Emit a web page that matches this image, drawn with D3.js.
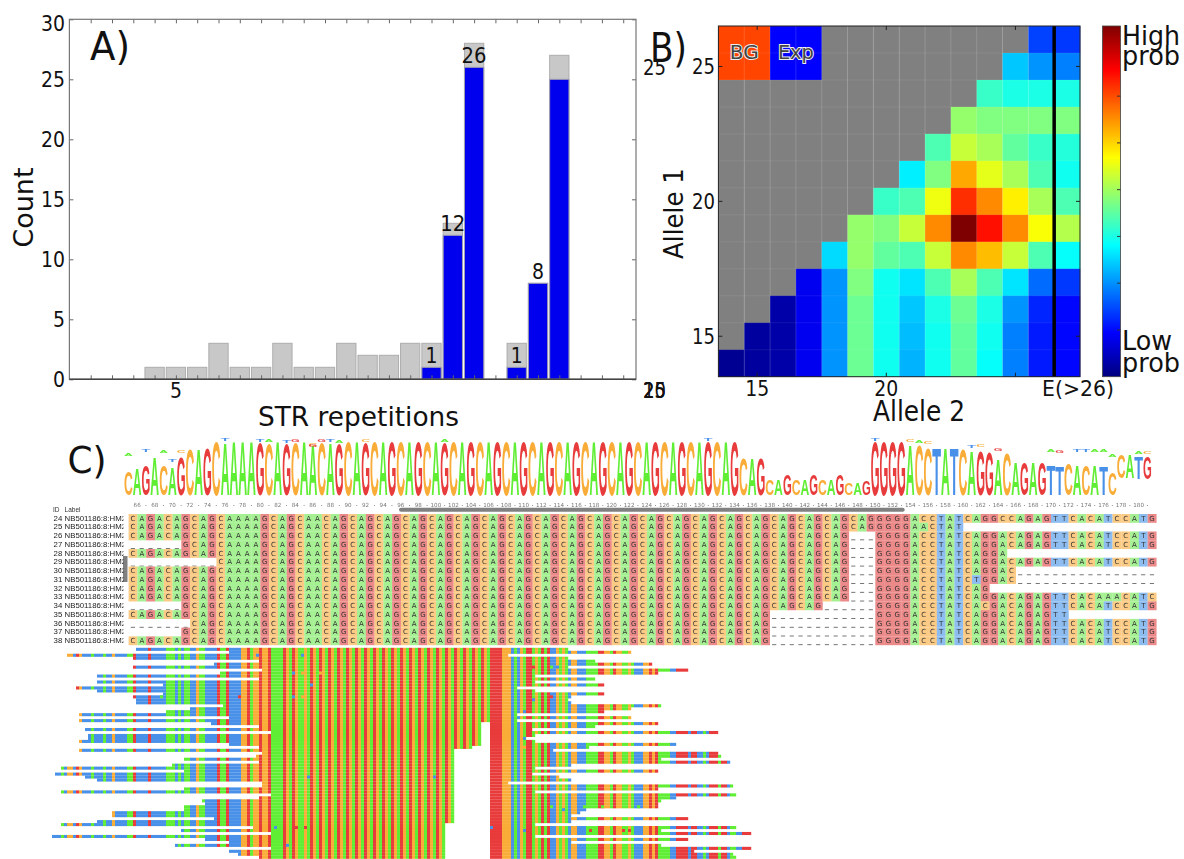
<!DOCTYPE html>
<html><head><meta charset="utf-8">
<script src="https://cdn.jsdelivr.net/npm/d3@7/dist/d3.min.js"></script>
<style>html,body{margin:0;padding:0;background:#fff}svg{display:block}text{font-family:"DejaVu Sans";fill:#111}</style>
</head><body><svg id="c" width="1184" height="859"></svg>
<script>
// ---------- Panel A data
const repeatValues=[4,5,6,7,8,9,10,11,12,13,14,15,16,17,18,19,21,22,23];
const backgroundCounts=[1,1,1,3,1,1,3,1,1,3,2,2,3,3,13,28,3,8,27];
const expandedCounts=[0,0,0,0,0,0,0,0,0,0,0,0,0,1,12,26,1,8,25];
const annotatedRepeats=[17,18,19,21,22];
const annotatedValues=[1,12,26,1,8];
const countTicks=[0,5,10,15,20,25,30];
const repeatMinorTicks=[1,2,3,4,5,6,7,8,9,10,11,12,13,14,15,16,17,18,19,20,21,22,23,24,25,26];
const repeatTickLabels=[5];
// ---------- Panel B data
const allele2Cols=["14","15","16","17","18","19","20","21","22","23","24","25","26","E"];
const allele1Rows=[26,25,24,23,22,21,20,19,18,17,16,15,14];
const n=null;
const probGrid=[
[n,n,n,n,n,n,n,n,n,n,n,n,.19,.18],
[n,n,n,n,n,n,n,n,n,n,n,.32,.27,.25],
[n,n,n,n,n,n,n,n,n,n,.43,.40,.40,.40],
[n,n,n,n,n,n,n,n,n,.52,.50,.50,.50,.50],
[n,n,n,n,n,n,n,n,.45,.57,.54,.47,.43,.41],
[n,n,n,n,n,n,n,.36,.50,.71,.60,.54,.45,.39],
[n,n,n,n,n,n,.43,.45,.61,.83,.74,.64,.54,.45],
[n,n,n,n,n,.52,.50,.57,.74,1,.86,.74,.62,.55],
[n,n,n,n,.34,.52,.47,.45,.57,.74,.69,.57,.45,.38],
[n,n,n,.11,.27,.50,.39,.35,.45,.54,.45,.35,.23,.18],
[n,n,.04,.11,.27,.48,.39,.32,.40,.48,.40,.27,.16,.13],
[n,.03,.04,.11,.27,.48,.39,.31,.39,.47,.39,.25,.15,.13],
[.02,.03,.04,.11,.27,.48,.39,.30,.39,.47,.38,.25,.15,.13]];
const alleleTicks=[15,20,25];
const jetStops=[[0,"#00007f"],[.125,"#0000ff"],[.375,"#00ffff"],[.625,"#ffff00"],[.875,"#ff0000"],[1,"#7f0000"]];
const colorbarTicks=[.1333,.2667,.4,.5333,.6667,.8];
// ---------- Panel C data
const head="CAGACAGCAGCAAAAGCAGCAACAG";
const rep16="CAGCAGCAGCAGCAGCAGCAGCAGCAGCAGCAGCAGCAGCAGCAGCAG";
const rep18=rep16+"CAGCAG", rep19=rep18+"CAG", rep20=rep19+"CAG";
const tail="GGGGACCTATCAGGACAGAGTTCACATCCATG";
const alignRows=[
head+rep20+"GGGGACCTATCAGGCCAGAGTTCACATCCATG",
head+rep20+"GGGGAACTAT                      ",
head+rep19+"---"+tail,
"------GCAGCAAAAGCAGCAACAG"+rep19+"---"+tail,
head+rep19+"---"+"GGGGACCTATCAGGA                 ",
"----------CAAAAGCAGCAACAG"+rep19+"---"+tail,
head+rep19+"---"+"GGGGACCTATCAGGAC----------------",
head+rep19+"---"+"GGGGACCTATCTGGAC----------------",
head+rep19+"---"+"GGGGACCTATCAG                   ",
head+rep19+"---"+"GGGGACCTATCAGGACAGAGTTCACAAACATC",
"------GCAGCAAAAGCAGCAACAG"+rep18+"------"+"GGGGACCTATCACGACAGAGTTCACATCCATG",
head+rep16+"------------"+"GGGGACCTATCAGGACAGAGTT          ",
"-------CAGCAAAAGCAGCAACAG"+rep16+"------------"+tail,
"      GCAGCAAAAGCAGCAACAG"+rep16+"------------"+tail,
head+rep16+"------------"+tail];
const alignIds=[24,25,26,27,28,29,30,31,32,33,34,35,36,37,38];
const alignLabel="NB501186:8:HM2";
const logoBases=head+rep20+tail;
const logoHeights=[.44,.48,.55,.70,.55,.50,.72,.86,.86,.88,
1,.98,1,1,1,.97,.96,1,.96,.98,1,.93,.98,.98,.96,1,1,.98,1,1,
1,1,1,1,1,1,.98,1,1,1,1,1,1,1,1,1,1,1,1,1,
1,1,1,1,1,1,1,1,1,1,1,1,1,1,1,1,1,1,1,1,
.68,.68,.68,.30,.30,.38,.30,.30,.38,.30,.30,.38,.22,.22,.27,
1,1,1,1,.92,.92,.89,.89,.89,.89,.86,.83,.83,.80,.65,.77,.62,.62,.62,.62,
.56,.54,.59,.56,.56,.56,.54,.41,.45,.45,.42,.42];
const logoLiftCols=[113,114,115,116];
const logoLifts=[.32,.32,.29,.29];
const logoMinor=[[0,"A",.71],[2,"T",.78],[4,"A",.76],[5,"T",.60],[6,"C",.77],[11,"T",.98],[15,"T",.97],[16,"A",.96],[18,"T",.95],[19,"G",.97],[21,"C",.90],[21,"G",.88],[22,"G",.97],[23,"T",.97],[24,"A",.95],[27,"C",.97],[36,"A",.96],
[66,"T",.98],[85,"T",.98],[89,"C",.97],[90,"A",.95],[91,"C",.93],[96,"T",.85],[97,"C",.88],[99,"G",.80],[105,"A",.79],[106,"G",.76],[108,"T",.78],[109,"T",.78],[110,"A",.78],[111,"A",.78],[112,"A",.69],[115,"A",.74],[116,"C",.74]];
const rulerTicks=[66,68,70,72,74,76,78,80,82,84,86,88,90,92,94,96,98,100,102,104,106,108,110,112,114,116,118,120,122,124,126,128,130,132,134,136,138,140,142,144,146,148,150,152,154,156,158,160,162,164,166,168,170,172,174,176,178,180];
// pileup
const pileRef="TTTT"+"TTTATCCTGCTT"+"TATTTATTCTTTTAAGTTTTG"+"TTTTTAAATATAATTCAATTTTGAAGTTTTCCGACCGCCG"+"AAAAGCAGCAACAG"+
rep16+"CAGCAGCAG"+"CA"+"GGGGCCCTATCAGGACAGAGTTCACATCCTTTAAAAGGCCAGCCAACATTTCCGCGAAAATTGGGGTGGTTATGGGAGGTAATTGGGCAC";
const readStarts=[32,63,9,31,73,58,31,74,60,19,73,19,41,12,19,41,31,32,32,61,50,42,13,63,13,57,73,15,77,16,16,13,63,73,13,74,72,48,73,44,7,48,5,15,19,74,74,48,7,77,73,54,55,48,48,24,24,58,19,7,71,47,77,4,55,63,45,77,63,66,73];
const readEnds=[176,197,156,176,185,204,176,216,206,165,185,165,188,159,165,188,177,176,177,207,197,188,159,197,159,206,185,164,226,165,162,165,212,183,171,226,227,207,230,177,165,206,164,173,177,156,231,206,165,232,212,207,206,206,182,180,177,216,177,165,232,207,237,165,216,177,207,237,218,231,232];
const gapFromRow=[25,33,34,59];
const gapFromCol=[147,144,138,135];
const gapEndCol=150;
const mismatches=[[2,87,"T"],[2,72,"T"],[8,84,"T"],[8,87,"C"],[8,93,"C"],[12,90,"T"],[16,84,"T"],[16,87,"C"],[16,66,"G"],[16,40,"A"],[43,89,"T"],[60,78,"T"],[60,85,"G"],[60,88,"G"],[66,82,"T"],[6,164,"G"],[6,170,"A"],[6,172,"T"],[17,164,"T"],[16,170,"G"],[21,161,"T"],[30,161,"T"],[33,161,"C"],[43,131,"T"],[60,150,"T"],[61,161,"T"],[61,183,"G"],[61,194,"G"],[61,196,"G"],[53,170,"A"],[54,174,"T"],[53,181,"A"],[53,187,"A"],[53,199,"A"]];

const svg=d3.select("#c");
function txt(g,s,x,y,size,width,o={}){
  const t=g.append("text").text(s).attr("x",x).attr("y",y).attr("font-size",size)
    .attr("text-anchor",o.anchor||"middle");
  if(width){t.attr("textLength",width).attr("lengthAdjust","spacingAndGlyphs");}
  if(o.rotate)t.attr("transform",`rotate(-90,${x},${y})`);
  return t;
}
// ================= Panel A
const A=svg.append("g");
const xA=d3.scaleLinear().domain([0,26.6]).range([69.4,636]);
const yA=d3.scaleLinear().domain([0,30]).range([379.3,19.3]);
const barW=19.3;
A.selectAll("rect.bg").data(repeatValues).join("rect").attr("class","bg")
 .attr("x",d=>xA(d)-barW/2).attr("width",barW)
 .attr("y",(d,i)=>yA(backgroundCounts[i])).attr("height",(d,i)=>yA(0)-yA(backgroundCounts[i]))
 .attr("fill","#c8c8c8").attr("stroke","#adadad").attr("stroke-width",1);
A.selectAll("rect.ex").data(repeatValues.filter((d,i)=>expandedCounts[i]>0)).join("rect").attr("class","ex")
 .attr("x",d=>xA(d)-barW/2).attr("width",barW)
 .attr("y",d=>yA(expandedCounts[repeatValues.indexOf(d)])).attr("height",d=>yA(0)-yA(expandedCounts[repeatValues.indexOf(d)]))
 .attr("fill","#0000ee").attr("stroke","#a0a0b0").attr("stroke-width",1);
function styleAxis(g,col){g.selectAll(".domain").remove();g.selectAll("line").attr("stroke",col).attr("stroke-width",1);g.selectAll("text").remove();}
A.append("g").attr("transform",`translate(0,${yA(0)})`).call(d3.axisBottom(xA).tickValues(repeatMinorTicks).tickSize(-4)).call(g=>styleAxis(g,"#666"));
A.append("g").attr("transform",`translate(0,${yA(30)})`).call(d3.axisTop(xA).tickValues(repeatMinorTicks).tickSize(-4)).call(g=>styleAxis(g,"#666"));
A.append("g").attr("transform",`translate(${xA(0)},0)`).call(d3.axisLeft(yA).tickValues(countTicks).tickSize(-4)).call(g=>styleAxis(g,"#666"));
A.append("g").attr("transform",`translate(${xA.range()[1]},0)`).call(d3.axisRight(yA).tickValues(countTicks).tickSize(-4)).call(g=>styleAxis(g,"#666"));
A.append("rect").attr("x",xA(0)).attr("y",yA(30)).attr("width",xA.range()[1]-xA(0)).attr("height",yA(0)-yA(30)).attr("fill","none").attr("stroke","#777").attr("stroke-width",1.2);
A.append("line").attr("x1",xA(0)).attr("x2",xA.range()[1]).attr("y1",yA(0)).attr("y2",yA(0)).attr("stroke","#444").attr("stroke-width",1.4);
countTicks.forEach(v=>{const yy=yA(v)+8+(v===30?4:0);txt(A,String(v),65,yy,22,v<10?12:24,{anchor:"end"});});
repeatTickLabels.forEach(v=>txt(A,String(v),xA(v),398,22,12));
annotatedRepeats.forEach((d,i)=>{const v=annotatedValues[i];txt(A,String(v),xA(d),yA(v)-4,22,v<10?12:25);});
txt(A,"Count",33,207.5,27,80,{rotate:true});
txt(A,"STR repetitions",358.5,426,27,201);
txt(A,"A)",110,60,39,40);
// ================= Panel B
const B=svg.append("g");
const xB=d3.scaleBand().domain(allele2Cols).range([718.4,1080]);
const yB=d3.scaleBand().domain(allele1Rows).range([26,376.7]);
const jet=d3.scaleLinear().domain(jetStops.map(d=>d[0])).range(jetStops.map(d=>d[1]));
probGrid.forEach((row,r)=>row.forEach((v,c)=>{
  B.append("rect").attr("x",xB(allele2Cols[c])).attr("y",yB(allele1Rows[r])).attr("width",xB.bandwidth()+.3).attr("height",yB.bandwidth()+.3)
   .attr("fill",v===null?"#808080":jet(v));
}));
B.append("rect").attr("x",xB("14")).attr("y",yB(26)).attr("width",xB.bandwidth()*2).attr("height",yB.bandwidth()*2).attr("fill","#ff4500");
B.append("rect").attr("x",xB("16")).attr("y",yB(26)).attr("width",xB.bandwidth()*2).attr("height",yB.bandwidth()*2).attr("fill","#0000ff");
allele2Cols.slice(1).forEach(c=>B.append("line").attr("x1",xB(c)).attr("x2",xB(c)).attr("y1",26).attr("y2",376.7).attr("stroke","rgba(255,255,255,.15)"));
allele1Rows.slice(1).forEach(c=>B.append("line").attr("y1",yB(c)).attr("y2",yB(c)).attr("x1",718.4).attr("x2",1080).attr("stroke","rgba(255,255,255,.08)"));
const cx=d=>xB(String(d))+xB.bandwidth()/2, cy=d=>yB(d)+yB.bandwidth()/2;
alleleTicks.forEach(d=>{
  B.append("line").attr("x1",cx(d)).attr("x2",cx(d)).attr("y1",376.7).attr("y2",372.7).attr("stroke","#222");
  B.append("line").attr("x1",cx(d)).attr("x2",cx(d)).attr("y1",26).attr("y2",30).attr("stroke","#222");
  B.append("line").attr("y1",cy(d)).attr("y2",cy(d)).attr("x1",718.4).attr("x2",722.4).attr("stroke","#222");
  B.append("line").attr("y1",cy(d)).attr("y2",cy(d)).attr("x1",1080).attr("x2",1076).attr("stroke","#222");
  txt(B,String(d),715,cy(d)+8,22,23,{anchor:"end"});
  if(d<25)txt(B,String(d),cx(d),396,22,24);
});
txt(B,"E(>26)",1078,396,22,72);
B.append("line").attr("x1",xB("E")).attr("x2",xB("E")).attr("y1",26).attr("y2",376.7).attr("stroke","#000").attr("stroke-width",3.5);
B.append("rect").attr("x",718.4).attr("y",26).attr("width",361.6).attr("height",350.7).attr("fill","none").attr("stroke","#222").attr("stroke-width",1);
[["BG",xB("15"),29],["Exp",xB("17"),36]].forEach(([s,x,w])=>{
  txt(B,s,x,59,20,w).style("fill","#444").attr("stroke","#eee").attr("stroke-width",2).attr("paint-order","stroke");
});
txt(B,"Allele 1",683,213.5,26,91,{rotate:true});
txt(B,"Allele 2",919,421,28,92);
txt(B,"B)",668.5,62,40,37);
txt(B,"25",654.5,75,22,23);
alleleTicks.forEach(d=>txt(B,String(d),654.5,398,22,23));
const grad=svg.append("defs").append("linearGradient").attr("id","jet").attr("x1",0).attr("x2",0).attr("y1",1).attr("y2",0);
jetStops.forEach(s=>grad.append("stop").attr("offset",s[0]).attr("stop-color",s[1]));
const yC=d3.scaleLinear().domain([0,1]).range([376.7,26]);
B.append("rect").attr("x",1102.5).attr("y",26).attr("width",18).attr("height",350.7).attr("fill","url(#jet)").attr("stroke","#444").attr("stroke-width",.8);
colorbarTicks.forEach(t=>B.append("line").attr("x1",1120.5).attr("x2",1117).attr("y1",yC(t)).attr("y2",yC(t)).attr("stroke","#333"));
txt(B,"High",1122,44.5,26,58,{anchor:"start"});
txt(B,"prob",1122,65,26,58,{anchor:"start"});
txt(B,"Low",1122,350,26,50,{anchor:"start"});
txt(B,"prob",1122,372,26,58,{anchor:"start"});
// ================= Panel C
const defs=svg.select("defs");
defs.append("filter").attr("id","soft").attr("x","-2%").attr("y","-2%").attr("width","104%").attr("height","104%").append("feGaussianBlur").attr("stdDeviation",.45);
defs.append("clipPath").attr("id","lab").append("rect").attr("x",50).attr("y",505).attr("width",73.5).attr("height",145);
txt(svg,"C)",87,473,38,39);
const C=svg.append("g").attr("filter","url(#soft)");
const logoCol={C:"#f9ac37",A:"#61ee35",G:"#e83a3a",T:"#4a90e8"};
const cellCol={C:"#fbcb85",A:"#a5f092",G:"#ec8a8a",T:"#8dbcf0"};
const adv={C:72.2,A:72.2,G:77.8,T:61.1};
const xLogo=d3.scaleLinear().domain([0,117]).range([124,124+117*8.785]);
const yLogo=d3.scaleLinear().domain([0,1]).range([495.3,440]);
function glyph(ch,i,y0,h){
  const w=xLogo(1)-xLogo(0);
  C.append("text").text(ch).attr("font-size",100).style("font-family","Liberation Sans").style("font-weight","bold").style("fill",logoCol[ch])
   .attr("transform",`translate(${xLogo(i)},${y0}) scale(${w*1.0/adv[ch]},${h/73})`);
}
logoHeights.forEach((f,i)=>{
  const k=logoLiftCols.indexOf(i), lift=k<0?0:logoLifts[k];
  glyph(logoBases[i],i,yLogo(lift),yLogo(0)-yLogo(f));
});
logoMinor.forEach(m=>glyph(m[1],m[0],yLogo(m[2]),2.2));
rulerTicks.forEach(v=>{
  C.append("text").text(v).attr("x",xLogo(v-65+.5)).attr("y",507).attr("font-size",5.6).attr("text-anchor","middle").style("fill","#777");
  C.append("circle").attr("cx",xLogo(v-64+.5)).attr("cy",505.5).attr("r",.5).attr("fill","#777");
});
C.append("rect").attr("x",399).attr("y",507.7).attr("width",505.7).attr("height",4).attr("rx",2).attr("fill","#808080");
C.append("rect").attr("x",123).attr("y",556).attr("width",4.5).attr("height",26).attr("fill","#808080");
const xAl=d3.scaleLinear().domain([0,117]).range([128.6,128.6+117*8.785]);
const yAl=d3.scaleBand().domain(alignIds).range([514,645.1]);
C.append("text").text("ID").attr("x",53).attr("y",511.5).attr("font-size",6.5).style("font-family","Liberation Sans").style("fill","#333");
C.append("text").text("Label").attr("x",64.6).attr("y",511.5).attr("font-size",6.5).style("font-family","Liberation Sans").style("fill","#333");
alignRows.forEach((seq,r)=>{
  const id=alignIds[r], y=yAl(id), h=yAl.bandwidth();
  C.append("text").text(id).attr("x",53.6).attr("y",y+h-2).attr("font-size",7.8).style("font-family","Liberation Sans").style("fill","#222");
  C.append("text").text(alignLabel).attr("x",64.6).attr("y",y+h-2).attr("font-size",7.8).attr("clip-path","url(#lab)").style("font-family","Liberation Sans").style("fill","#222");
  seq.split("").forEach((ch,i)=>{
    if(ch===" ")return;
    if(ch==="-"){C.append("rect").attr("x",xAl(i)+2.2).attr("y",y+h/2+3.6).attr("width",4.2).attr("height",.8).attr("fill","#555");return;}
    C.append("rect").attr("x",xAl(i)).attr("y",y).attr("width",8.9).attr("height",h+.1).attr("fill",cellCol[ch]);
    C.append("text").text(ch).attr("x",xAl(i)+4.4).attr("y",y+h-2).attr("font-size",7).attr("text-anchor","middle").style("font-family","DejaVu Sans").style("fill","#333");
  });
});
const xP=d3.scaleLinear().domain([0,240]).range([40,760]);
const yP=d3.scaleLinear().domain([0,71]).range([647.8,858.7]);
readStarts.forEach((s,r)=>{
  let gs=null; gapFromRow.forEach((fr,k)=>{if(r>=fr)gs=gapFromCol[k];});
  let runStart=s;
  for(let c=s+1;c<=readEnds[r];c++){
    const inGap=gs!==null&&c>=gs&&c<gapEndCol, prevGap=gs!==null&&c-1>=gs&&c-1<gapEndCol;
    if(c===readEnds[r]||pileRef[c]!==pileRef[runStart]||inGap!==prevGap){
      if(!prevGap)C.append("rect").attr("x",xP(runStart)).attr("y",yP(r)).attr("width",xP(c)-xP(runStart)+.2).attr("height",yP(1)-yP(0)+.1).attr("fill",logoCol[pileRef[runStart]]);
      runStart=c;
    }
  }
});
mismatches.forEach(m=>C.append("rect").attr("x",xP(m[1])).attr("y",yP(m[0])).attr("width",xP(1)-xP(0)).attr("height",yP(1)-yP(0)).attr("fill",logoCol[m[2]]));
</script></body></html>
